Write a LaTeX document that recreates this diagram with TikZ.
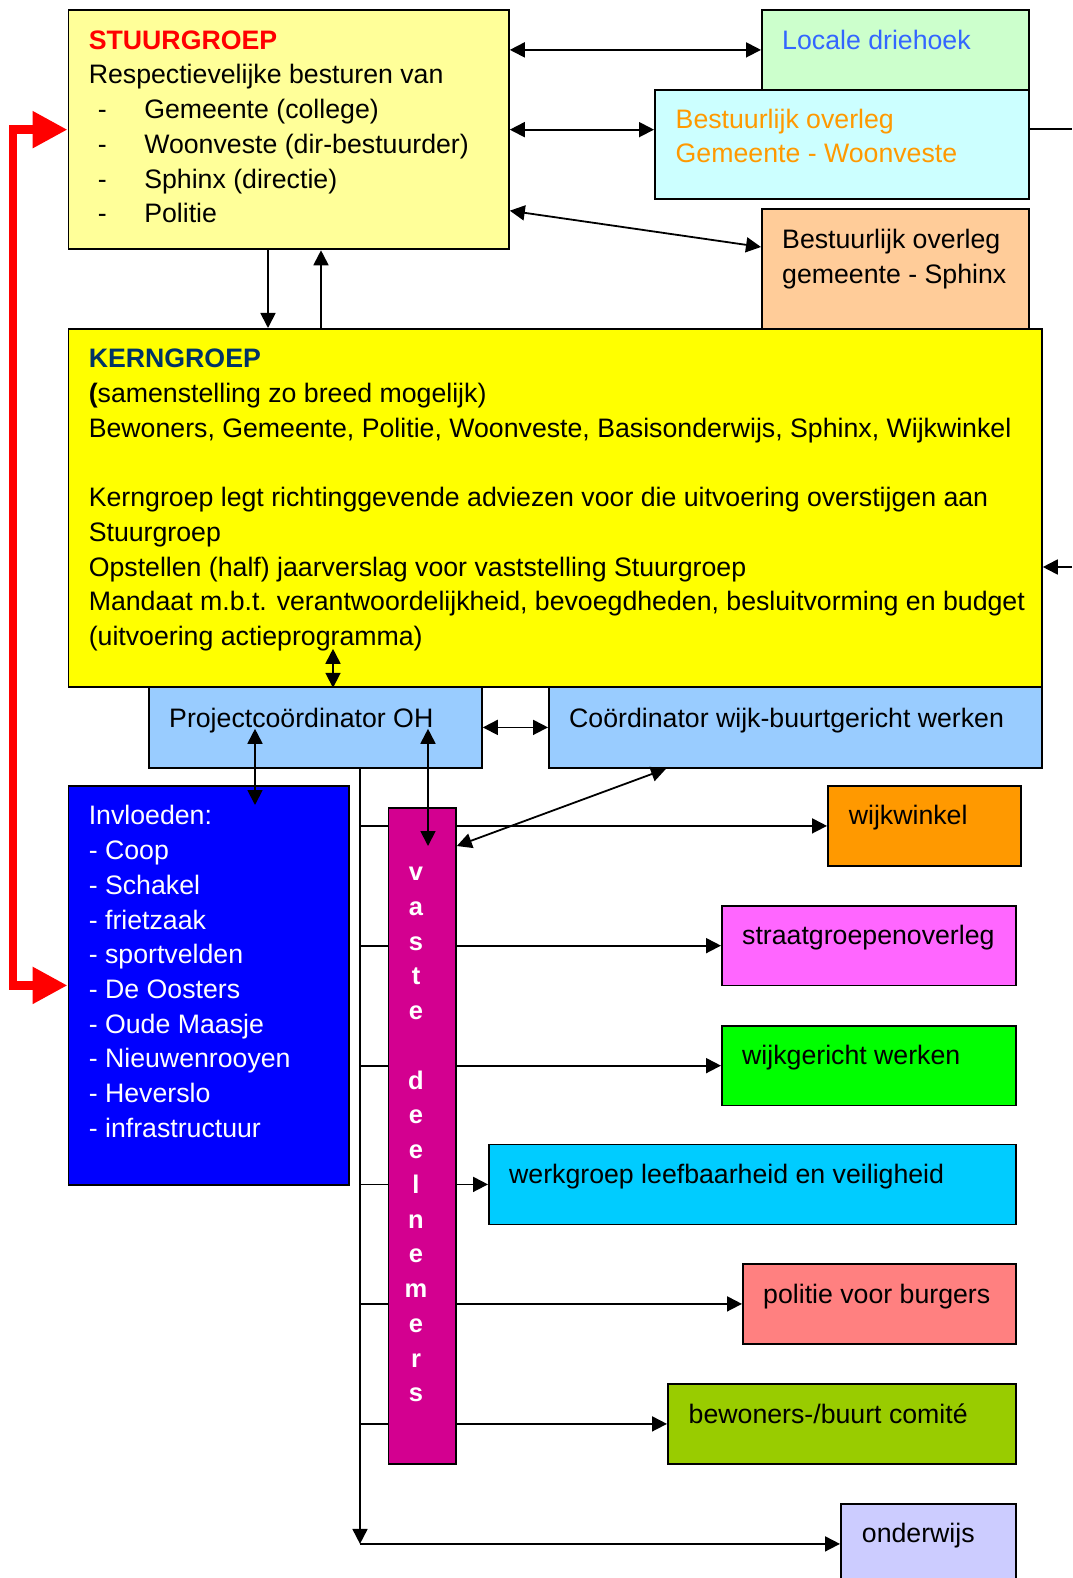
\documentclass[tikz,border=0pt]{standalone}
\usepackage{fontspec}
\setmainfont{Liberation Sans}
\usetikzlibrary{arrows.meta,calc}
\definecolor{sgfill}{HTML}{FFFF99}
\definecolor{lcfill}{HTML}{CCFFCC}
\definecolor{bogwfill}{HTML}{CCFFFF}
\definecolor{bogsfill}{HTML}{FFCC99}
\definecolor{kgfill}{HTML}{FFFF00}
\definecolor{pcfill}{HTML}{99CCFF}
\definecolor{invfill}{HTML}{0000FF}
\definecolor{vdfill}{HTML}{D30090}
\definecolor{wwfill}{HTML}{FF9900}
\definecolor{sgofill}{HTML}{FF66FF}
\definecolor{wgfill}{HTML}{00FF00}
\definecolor{wlvfill}{HTML}{00CCFF}
\definecolor{pvbfill}{HTML}{FF8080}
\definecolor{bbcfill}{HTML}{99CC00}
\definecolor{owfill}{HTML}{CCCCFF}
\definecolor{titlered}{HTML}{FF0000}
\definecolor{navy}{HTML}{003366}
\definecolor{lcblue}{HTML}{3366FF}
\definecolor{bogorange}{HTML}{FF9900}
\newcommand\myfs{\fontsize{26.7}{34.7}\selectfont}
\newcommand\myvfs{\fontsize{25.5}{34.75}\selectfont}
\newcommand\bul{\hspace*{9pt}\makebox[46.5pt][l]{-}}
\begin{document}
\begin{tikzpicture}[x=1pt,y=-1pt,
  box/.style={draw=black, line width=1.8pt, inner sep=0pt, anchor=north west},
  txt/.style={inner sep=0pt, anchor=base west, font=\myfs},
  arr/.style={line width=1.8pt, -{Triangle[length=15pt,width=15pt]}},
  arrtwo/.style={line width=1.8pt, {Triangle[length=15pt,width=15pt]}-{Triangle[length=15pt,width=15pt]}},
  plain/.style={line width=1.8pt},
  redarr/.style={draw=titlered, line width=8.5pt, line join=miter,
    {Triangle[length=35pt,width=35pt]}-{Triangle[length=35pt,width=35pt]}}]
\useasboundingbox (0,0) rectangle (1072,1578);

% upper boxes
\node[box, fill=sgfill, minimum width=440.5pt, minimum height=239.5pt] (sg) at (67.5,9) {};
\node[box, fill=lcfill, minimum width=267pt, minimum height=80pt] (lc) at (761,9) {};
\node[box, fill=bogwfill, minimum width=374pt, minimum height=109pt] (bogw) at (654,89) {};
\node[box, fill=bogsfill, minimum width=267pt, minimum height=120pt] (bogs) at (761,208) {};
\node[box, fill=kgfill, minimum width=973.5pt, minimum height=358pt] (kg) at (67.5,328) {};
\node[box, fill=pcfill, minimum width=333pt, minimum height=81pt] (pc) at (148,686) {};
\node[box, fill=pcfill, minimum width=493pt, minimum height=81pt] (cw) at (548,686) {};
\node[box, fill=invfill, minimum width=280.5pt, minimum height=399pt] (inv) at (67.5,785) {};

% right column boxes
\node[box, fill=wwfill, minimum width=193pt, minimum height=80pt] (ww) at (827,785) {};
\node[box, fill=sgofill, minimum width=294pt, minimum height=79.5pt] (sgo) at (721,905) {};
\node[box, fill=wgfill, minimum width=294pt, minimum height=79.5pt] (wg) at (721,1025) {};
\node[box, fill=wlvfill, minimum width=527pt, minimum height=80pt] (wlv) at (488,1143.5) {};
\node[box, fill=pvbfill, minimum width=273pt, minimum height=80pt] (pvb) at (742,1263) {};
\node[box, fill=bbcfill, minimum width=348pt, minimum height=80pt] (bbc) at (667,1383) {};
\node[box, fill=owfill, minimum width=175pt, minimum height=80pt] (ow) at (840,1503) {};

% distribution bus
\path (pc.south west) ++(212,0) coordinate (bt);
\coordinate (bb) at (bt |- ow.west);
\draw[arr] (bt) -- (bb);
\draw[arr] (bb) -- (ow.west);
\draw[arr] (bt |- ww.west) -- (ww.west);
\draw[arr] (bt |- sgo.west) -- (sgo.west);
\draw[arr] (bt |- wg.west) -- (wg.west);
\draw[arr] (bt |- wlv.west) -- (wlv.west);
\draw[arr] (bt |- pvb.west) -- (pvb.west);
\draw[arr] (bt |- bbc.west) -- (bbc.west);

% vaste deelnemers bar (over the bus lines)
\node[box, fill=vdfill, minimum width=67.5pt, minimum height=656pt] (vd) at (387.5,807) {};

% texts
\node[txt] (sgt) at (88.6,49.3) {\begin{tabular}[t]{@{}l@{}}
\textcolor{titlered}{\textbf{STUURGROEP}}\\
Respectievelijke besturen van\\
\bul Gemeente (college)\\
\bul Woonveste (dir-bestuurder)\\
\bul Sphinx (directie)\\
\bul Politie
\end{tabular}};
\node[txt, text=lcblue] (lct) at (782,49.8) {Locale driehoek};
\node[txt, text=bogorange] (bogwt) at (675.5,128.3) {\begin{tabular}[t]{@{}l@{}}
Bestuurlijk overleg\\ Gemeente - Woonveste\end{tabular}};
\node[txt] (bogst) at (782,249) {\begin{tabular}[t]{@{}l@{}}
Bestuurlijk overleg\\ gemeente - Sphinx\end{tabular}};
\node[txt] (kgt) at (88.6,367.9) {\begin{tabular}[t]{@{}l@{}}
\textcolor{navy}{\textbf{KERNGROEP}}\\
\textbf{(}samenstelling zo breed mogelijk)\\
Bewoners, Gemeente, Politie, Woonveste, Basisonderwijs, Sphinx, Wijkwinkel\\
\\
Kerngroep legt richtinggevende adviezen voor die uitvoering overstijgen aan\\
Stuurgroep\\
Opstellen (half) jaarverslag voor vaststelling Stuurgroep\\
Mandaat m.b.t. verantwoordelijkheid, bevoegdheden, besluitvorming en budget\\
(uitvoering actieprogramma)
\end{tabular}};
\node[txt] (pct) at (169,727) {Projectcoördinator OH};
\node[txt] (cwt) at (569,727) {Coördinator wijk-buurtgericht werken};
\node[txt, text=white] (invt) at (88.6,824.9) {\begin{tabular}[t]{@{}l@{}}
Invloeden:\\ - Coop\\ - Schakel\\ - frietzaak\\ - sportvelden\\ - De Oosters\\
- Oude Maasje\\ - Nieuwenrooyen\\ - Heverslo\\ - infrastructuur
\end{tabular}};
\node[txt, anchor=base, text=white, font=\myvfs\bfseries] (vdt) at (416,880.5) {\begin{tabular}[t]{@{}c@{}}
v\\ a\\ s\\ t\\ e\\ \\ d\\ e\\ e\\ l\\ n\\ e\\ m\\ e\\ r\\ s
\end{tabular}};
\node[txt] (wwt) at (848.6,824.9) {wijkwinkel};
\node[txt] (sgot) at (742,944.5) {straatgroepenoverleg};
\node[txt] (wgt) at (742,1064.5) {wijkgericht werken};
\node[txt] (wlvt) at (509,1183.5) {werkgroep leefbaarheid en veiligheid};
\node[txt] (pvbt) at (763,1303) {politie voor burgers};
\node[txt] (bbct) at (688.5,1423) {bewoners-/buurt comité};
\node[txt] (owt) at (861.7,1542.5) {onderwijs};

% connectors top
\draw[arrtwo] (sg.east |- lc.west) -- (lc.west);
\draw[arrtwo] (sg.east) -- (sg.east -| bogw.west);
\draw[arrtwo] ($(sg.south east)+(0,-39.6)$) -- ($(bogs.north west)+(0,39)$);
\coordinate (edgeA) at (1072,129);
\draw[plain] (edgeA -| bogw.east) -- (edgeA);
\coordinate (edgeB) at (1072,567);
\draw[arr] (edgeB) -- (edgeB -| kg.east);
\draw[arr] ($(sg.south west)+(200.5,0)$) -- ($(kg.north west)+(200.5,0)$);
\draw[arr] ($(kg.north west)+(253.5,0)$) -- ($(sg.south west)+(253.5,0)$);
\draw[arrtwo] ($(kg.south west)+(265.5,-39)$) -- ($(kg.south west)+(265.5,0)$);

% connectors middle
\draw[arrtwo] (pc.east) -- (cw.west);
\draw[arrtwo] ($(pc.south west)+(107,-40)$) -- ($(inv.north west)+(187.5,20)$);
\draw[arrtwo] ($(pc.south west)+(280,-40)$) -- ($(vd.north west)+(40.5,39)$);
\draw[arrtwo] ($(cw.south west)+(118,0)$) -- ($(vd.north east)+(0,39)$);

% red feedback arrow
\draw[redarr] (sg.west) -- ++(-54.5,0) |- (inv.west);
\end{tikzpicture}
\end{document}
